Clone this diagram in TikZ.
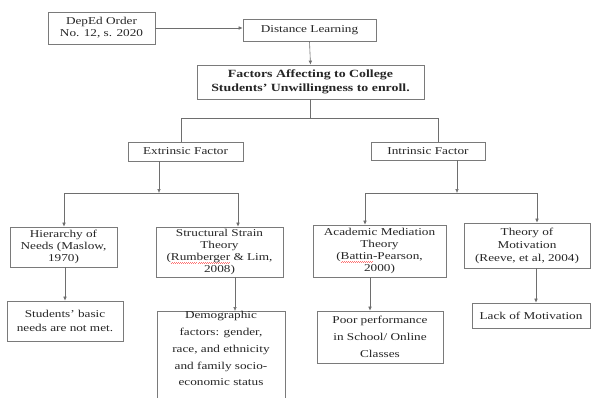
\documentclass[tikz,border=0pt]{standalone}
\usepackage{fontspec}
\setmainfont{Liberation Serif}[FakeStretch=1.26]
\usetikzlibrary{arrows.meta}
\newcommand\redwave[1]{\setbox0\hbox{#1}\rlap{\smash{\textcolor{red!55}{\raisebox{-2.4pt}{\hbox to \wd0{\xleaders\hbox{\rule[0pt]{0.6pt}{0.35pt}\hskip0.4pt\rule[0.45pt]{0.6pt}{0.35pt}\hskip0.4pt}\hfill}}}}}#1}
\definecolor{boxc}{HTML}{7A7A7A}
\definecolor{linec}{HTML}{6E6E6E}
\definecolor{txtc}{HTML}{262626}
\tikzset{
  box/.style={draw=boxc, line width=0.7pt, rectangle, inner sep=0pt, align=center,
    text=txtc, font=\fontsize{10.5}{12}\selectfont},
  conn/.style={draw=linec, line width=0.6pt},
  arr/.style={conn, -{Latex[length=4pt,width=3.6pt]}},
}
\begin{document}
\begin{tikzpicture}[x=1pt,y=-1pt]
\useasboundingbox (0,0) rectangle (592,397);
\fill[white] (0,0) rectangle (592,397);
% nodes
\node[box, minimum width=107pt, minimum height=32pt] (dep) at (101.5,28) {DepEd Order\\No. 12, s. 2020};
\node[box, minimum width=133pt, minimum height=22pt] (dist) at (309.5,30) {Distance Learning};
\node[box, minimum width=227pt, minimum height=34pt, font=\fontsize{11}{14}\selectfont\bfseries] (fac) at (310.5,82) {Factors Affecting to College\\Students' Unwillingness to enroll.};
\node[box, minimum width=115pt, minimum height=19pt] (ext) at (185.5,151.5) {Extrinsic Factor};
\node[box, minimum width=114pt, minimum height=18pt] (int) at (428,151) {Intrinsic Factor};
\node[box, minimum width=107pt, minimum height=40pt] (hier) at (63.5,247) {Hierarchy of\\Needs (Maslow,\\1970)};
\node[box, minimum width=127pt, minimum height=50pt] (struct) at (219.5,252) {Structural Strain\\Theory\\(\redwave{Rumberger} \& Lim,\\2008)};
\node[box, minimum width=133pt, minimum height=52pt] (acad) at (379.5,251) {Academic Mediation\\Theory\\(\redwave{Battin}-Pearson,\\2000)};
\node[box, minimum width=126pt, minimum height=45pt, font=\fontsize{10.5}{13}\selectfont] (tom) at (527,245.5) {Theory of\\Motivation\\(Reeve, et al, 2004)};
\node[box, minimum width=116pt, minimum height=40pt, font=\fontsize{10.5}{14}\selectfont] (stud) at (65,321) {Students' basic\\needs are not met.};
\node[box, minimum width=128pt, minimum height=92pt, font=\fontsize{10.5}{16.8}\selectfont] (demo) at (221,358) {Demographic\\factors: gender,\\race, and ethnicity\\and family socio-\\economic status\\[2pt]};
\node[box, minimum width=126pt, minimum height=52pt, font=\fontsize{10.5}{16.8}\selectfont] (poor) at (380,337) {Poor performance\\in School/ Online\\Classes};
\node[box, minimum width=118pt, minimum height=25pt] (lack) at (531,315.5) {Lack of Motivation};
% junction coordinates
\coordinate (h1l) at (181,118);
\coordinate (h1r) at (438,118);
\coordinate (e1) at (159,193);
\coordinate (el) at (64,193);
\coordinate (er) at (238,193);
\coordinate (i1) at (457,193);
\coordinate (il) at (365,193);
\coordinate (ir) at (537,193);
\coordinate (sd) at (235,0);
\coordinate (ap) at (370,0);
\coordinate (tl) at (536,0);
% connectors
\draw[arr] (dep.east) -- (dep.east -| dist.west);
\draw[arr] (dist.south) -- (fac.north);
\draw[conn] (fac.south) -- (fac.south |- h1l);
\draw[conn] (h1l |- ext.north) -- (h1l) -- (h1r) -- (h1r |- int.north);
\draw[arr] (e1 |- ext.south) -- (e1);
\draw[conn] (el) -- (er);
\draw[arr] (el) -- (el |- hier.north);
\draw[arr] (er) -- (er |- struct.north);
\draw[arr] (i1 |- int.south) -- (i1);
\draw[conn] (il) -- (ir);
\draw[arr] (il) -- (il |- acad.north);
\draw[arr] (ir) -- (ir |- tom.north);
\draw[arr] (hier.south -| stud.north) -- (stud.north);
\draw[arr] (sd |- struct.south) -- (sd |- demo.north);
\draw[arr] (ap |- acad.south) -- (ap |- poor.north);
\draw[arr] (tl |- tom.south) -- (tl |- lack.north);
\end{tikzpicture}
\end{document}
